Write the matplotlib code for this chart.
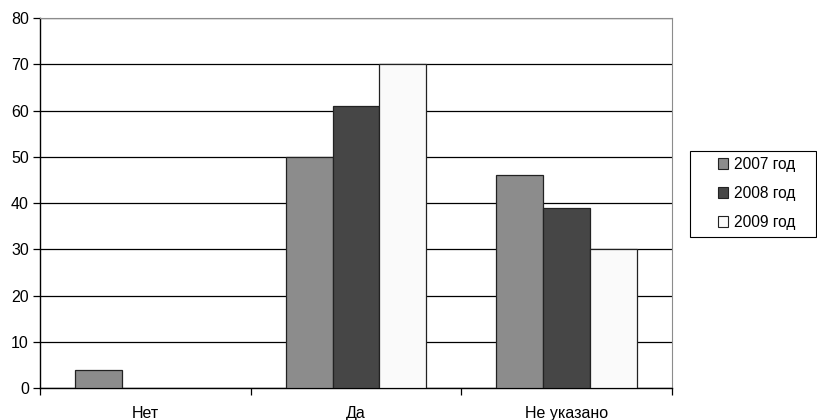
import numpy as np
import matplotlib.pyplot as plt
import matplotlib
from matplotlib.patches import Patch, Rectangle

matplotlib.rcParams['font.family'] = ['Liberation Sans', 'DejaVu Sans']

categories = ['Нет', 'Да', 'Не указано']
years = ['2007 год', '2008 год', '2009 год']
v2007 = [4, 50, 46]
v2008 = [0, 61, 39]
v2009 = [0, 70, 30]
colors = ['#8c8c8c', '#464646', '#fafafa']

W, H = 817, 420
fig = plt.figure(figsize=(W / 100, H / 100), dpi=100)
ax = fig.add_axes([40 / W, 32 / H, 632 / W, 370 / H])

x = np.arange(len(categories))
w = 0.223
for i, (vals, c) in enumerate(zip([v2007, v2008, v2009], colors)):
    bars = ax.bar(x + (i - 1) * w, vals, w, color=c, edgecolor='#222222', linewidth=0.9,
                  zorder=3)
    # нулевые столбцы не рисуем
    for b, v in zip(bars, vals):
        if v == 0:
            b.set_visible(False)

ax.set_xlim(-0.5, 2.5)
ax.set_ylim(0, 80)
ax.set_yticks(range(0, 81, 10))
ax.yaxis.grid(True, color='black', linewidth=0.9, zorder=0)
ax.set_axisbelow(True)

ax.set_xticks(x)
ax.set_xticklabels(categories, fontsize=11.5)
ax.tick_params(axis='x', length=0, pad=13)
ax.set_xticks([-0.5, 0.5, 1.5, 2.5], minor=True)
ax.tick_params(axis='x', which='minor', length=5, direction='out', width=0.9)
ax.tick_params(axis='y', length=5, direction='out', width=0.9, labelsize=11.5, pad=3)

ax.spines['top'].set_color('#8c8c8c')
ax.spines['right'].set_color('#8c8c8c')
for s in ['left', 'bottom']:
    ax.spines[s].set_linewidth(1.0)

# легенда
handles = [Patch(facecolor=c, edgecolor='#222222', linewidth=0.8) for c in colors]
leg = fig.legend(handles, years, loc='upper left', bbox_to_anchor=(718 / W, 1 - 157 / H),
                 fontsize=11.2, frameon=False, handlelength=0.65, handleheight=0.65,
                 handletextpad=0.35, labelspacing=0.9, borderpad=0, borderaxespad=0)
fig.patches.append(Rectangle((690 / W, 1 - 237 / H), 126 / W, 86 / H,
                             transform=fig.transFigure, fill=False,
                             edgecolor='black', linewidth=0.8))

plt.savefig('out.png', dpi=100, facecolor='white')
